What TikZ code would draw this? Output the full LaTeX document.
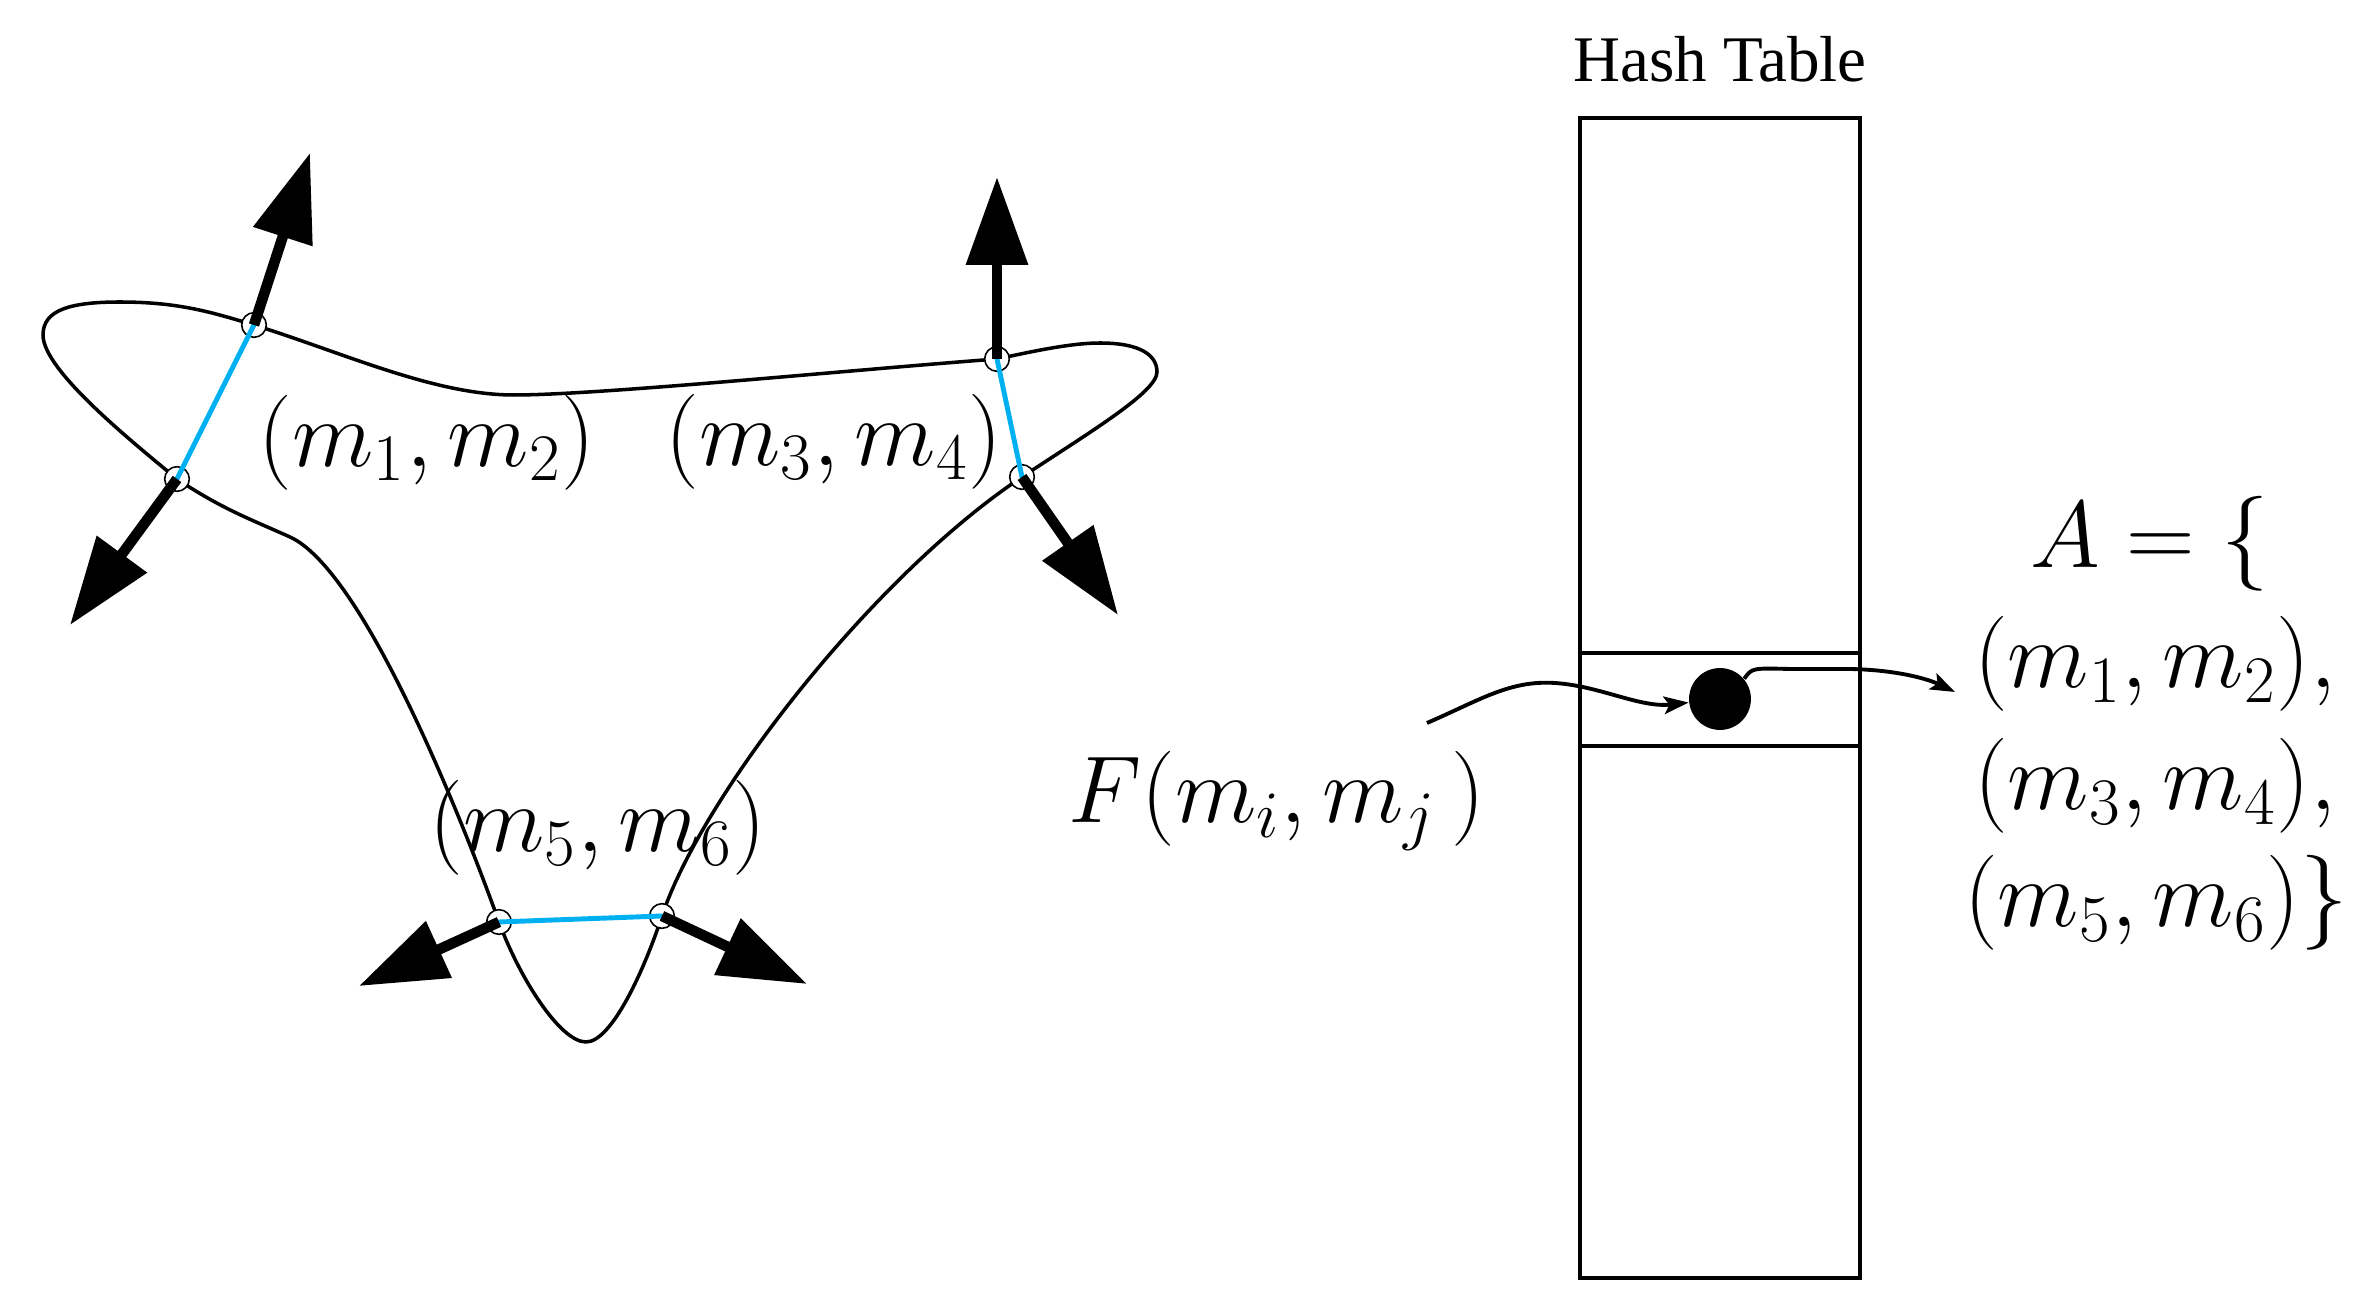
\RequirePackage{fix-cm}
\documentclass[tikz,border=0pt]{standalone}
\usepackage{fontspec}
\newfontfamily\timesfont{Liberation Serif}
\usetikzlibrary{arrows.meta}
\definecolor{sky}{RGB}{0,176,240}
\begin{document}
\begin{tikzpicture}[x=0.01cm,y=-0.01cm,
  outline/.style={line width=1pt, line join=round},
  pairline/.style={draw=sky, line width=1.4pt, line cap=round},
  normalvec/.style={line width=3pt, -{Triangle[length=25pt,width=17pt]}},
  ptmark/.style={circle, draw, line width=0.45pt, fill=white, minimum size=7pt, inner sep=0pt},
  mathlbl/.style={font=\fontsize{27}{32}\selectfont, inner sep=0pt},
  tbl/.style={line width=1.2pt},
  link/.style={line width=1.1pt, -{Stealth[length=7pt,width=5pt,inset=1.5pt]}},
]
\useasboundingbox (0,0) rectangle (2371,1313);

% contour points
\coordinate (c1) at (254,325);
\coordinate (c2) at (177,479);
\coordinate (c3) at (997,359);
\coordinate (c4) at (1022,477);
\coordinate (c5) at (499,922);
\coordinate (c6) at (662,916);

% closed contour
\draw[outline] (c1)
  .. controls (344,353) and (434,395) .. (514,395)
  .. controls (600,395) and (850,370) .. (c3)
  .. controls (1030,352) and (1070,343) .. (1100,343)
  .. controls (1140,343) and (1157,355) .. (1157,372)
  .. controls (1157,392) and (1090,432) .. (c4)
  .. controls (872,577) and (702,796) .. (c6)
  .. controls (645,968) and (612,1042) .. (586,1042)
  .. controls (560,1042) and (519,977) .. (c5)
  .. controls (454,797) and (360,569) .. (290,537)
  .. controls (250,519) and (222,509) .. (c2)
  .. controls (130,440) and (43,370) .. (43,335)
  .. controls (43,310) and (70,302) .. (120,302)
  .. controls (180,302) and (214,313) .. (c1) -- cycle;

\node[ptmark] (p1) at (c1) {};
\node[ptmark] (p2) at (c2) {};
\node[ptmark] (p3) at (c3) {};
\node[ptmark] (p4) at (c4) {};
\node[ptmark] (p5) at (c5) {};
\node[ptmark] (p6) at (c6) {};

% pair segments
\draw[pairline] (p1.center) -- (p2.center);
\draw[pairline] (p3.center) -- (p4.center);
\draw[pairline] (p5.center) -- (p6.center);

% normal vectors
\coordinate (t1) at (310,153);
\coordinate (t2) at (70,625);
\coordinate (t3) at (997,177);
\coordinate (t4) at (1118,615);
\coordinate (t5) at (359,986);
\coordinate (t6) at (807,984);
\draw[normalvec] (p1.center) -- (t1);
\draw[normalvec] (p2.center) -- (t2);
\draw[normalvec] (p3.center) -- (t3);
\draw[normalvec] (p4.center) -- (t4);
\draw[normalvec] (p5.center) -- (t5);
\draw[normalvec] (p6.center) -- (t6);

% pair labels
\node[mathlbl] (l12) at (427,443) {$(m_1,m_2)$};
\node[mathlbl] (l34) at (834,442) {$(m_3,m_4)$};
\node[mathlbl] (l56) at (598,828) {$(m_5,m_6)$};

% hash table
\node[font=\timesfont\fontsize{18.5}{22}\selectfont, anchor=base, inner sep=0pt] (title) at (1720,82) {Hash Table};
\draw[tbl] (1580,118) rectangle (1860,1278);
\draw[tbl] (1580,653) -- (1860,653);
\draw[tbl] (1580,746) -- (1860,746);
\node[circle, fill, minimum size=17.6pt, inner sep=0pt] (dot) at (1720,699) {};

% key
\node[mathlbl] (key) at (1277,801) {$F(m_i,m_j\,)$};
\coordinate (fin) at (1427,723);
\draw[link] (fin) .. controls (1480,700) and (1510,680) .. (1555,683)
  .. controls (1600,686) and (1640,708) .. (dot);

% result set
\coordinate (fout) at (1955,692);
\draw[link] (dot.40) .. controls (1752,668) .. (1790,669) -- (1850,669)
  .. controls (1900,670) and (1930,680) .. (fout);
\node[mathlbl, anchor=base] (setA) at (2150,568) {$A=\{$};
\node[mathlbl, anchor=base] (s1) at (2155,688) {$(m_1,m_2),$};
\node[mathlbl, anchor=base] (s2) at (2155,810) {$(m_3,m_4),$};
\node[mathlbl, anchor=base] (s3) at (2156,927) {$(m_5,m_6)\}$};
\end{tikzpicture}
\end{document}
